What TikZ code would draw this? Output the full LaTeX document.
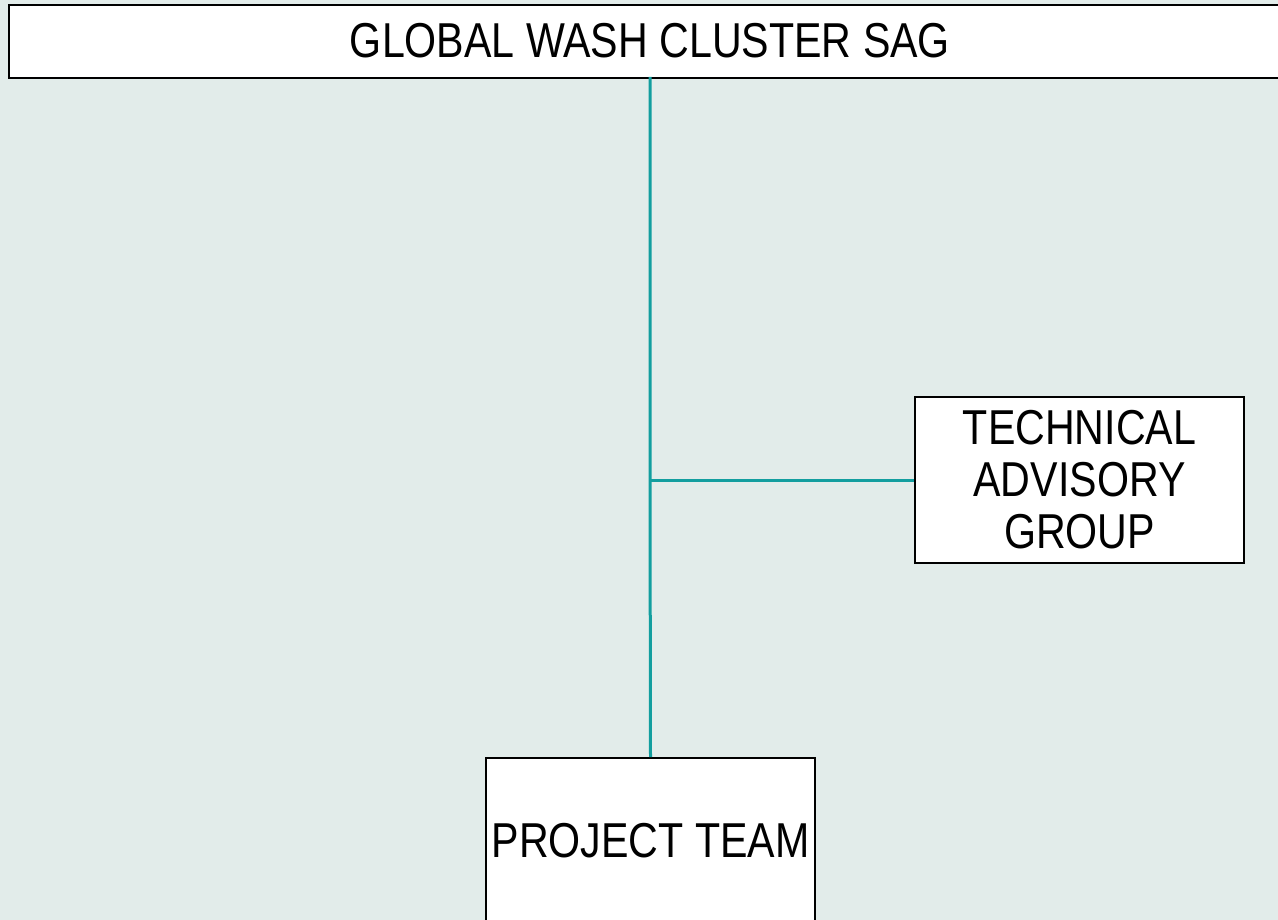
\documentclass[tikz,border=0pt]{standalone}
\usepackage{fontspec}
\setmainfont{Liberation Sans}
\newfontfamily\narrowfont[FakeStretch=0.84]{Liberation Sans}
\definecolor{bgc}{HTML}{E2ECEA}
\definecolor{tealc}{HTML}{129E9F}
\tikzset{
  orgbox/.style={draw=black, line width=2pt, fill=white, inner sep=0pt, align=center,
    font=\narrowfont\fontsize{49}{52}\selectfont},
  link/.style={draw=tealc, line width=3pt}
}
\begin{document}
\begin{tikzpicture}[x=1pt,y=-1pt]
\useasboundingbox (0,0) rectangle (1278,920);
\clip (0,0) rectangle (1278,920);
\fill[bgc] (0,0) rectangle (1278,920);
\node[orgbox, minimum width=1280pt, minimum height=73pt, anchor=north west] (sag) at (8,4) {};
\node[font=\narrowfont\fontsize{49}{52}\selectfont] at (650,40.5) {GLOBAL WASH CLUSTER SAG};
\node[orgbox, minimum width=329pt, minimum height=166pt, anchor=north west] (tag) at (914,396) {TECHNICAL\\ADVISORY\\GROUP};
\node[orgbox, minimum width=329pt, minimum height=166pt, anchor=north west] (pt) at (485,757) {PROJECT TEAM};
\coordinate (top) at (650,77);
\coordinate (junc) at (650,480);
\draw[link] (top) -- (junc) -- (pt.north);
\draw[link] (junc) -- (tag.west);
\end{tikzpicture}
\end{document}
